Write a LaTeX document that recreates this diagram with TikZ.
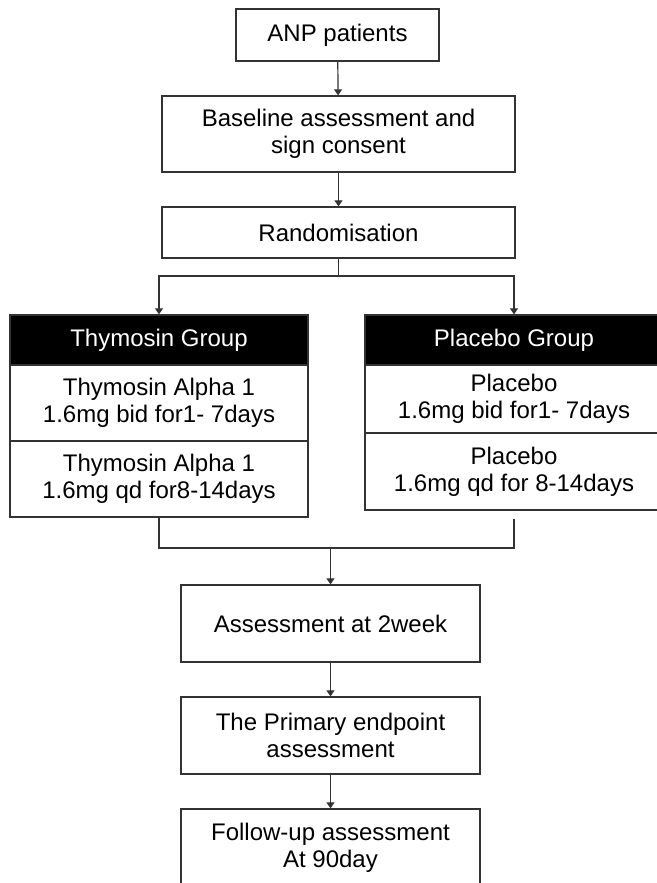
\documentclass[tikz,border=0pt]{standalone}
\usepackage{fontspec}
\setmainfont{Liberation Sans}
\usetikzlibrary{arrows.meta}

\begin{document}
\begin{tikzpicture}[x=1pt,y=-1pt,
  box/.style={draw=black!80,line width=1.3pt,fill=white,align=center,inner sep=0pt,
    font=\fontsize{24}{27}\selectfont},
  head/.style={box,fill=black,text=white},
  arr/.style={-{Triangle[length=6pt,width=8pt]},line width=1.2pt,draw=black!80},
  con/.style={line width=1.2pt,draw=black!80}]
\useasboundingbox (0,0) rectangle (656,883);
\node[box,minimum width=203pt,minimum height=52pt] (anp) at (337.5,35) {ANP patients};
\node[box,minimum width=353pt,minimum height=76pt] (base) at (338.5,134) {Baseline assessment and\\sign consent};
\node[box,minimum width=353pt,minimum height=51pt] (rand) at (338.5,232.5) {Randomisation};
\node[head,minimum width=298pt,minimum height=50pt] (thyhead) at (159,340) {Thymosin Group};
\node[box,minimum width=298pt,minimum height=76pt] (thy1) at (159,403) {Thymosin Alpha 1\\1.6mg bid for1- 7days};
\node[box,minimum width=298pt,minimum height=76pt] (thy2) at (159,479) {Thymosin Alpha 1\\1.6mg qd for8-14days};
\node[head,minimum width=298pt,minimum height=50pt] (plahead) at (514,340) {Placebo Group};
\node[box,minimum width=298pt,minimum height=68pt] (pla1) at (514,399) {Placebo\\1.6mg bid for1- 7days};
\node[box,minimum width=298pt,minimum height=77pt] (pla2) at (514,471.5) {Placebo\\1.6mg qd for 8-14days};
\node[box,minimum width=299pt,minimum height=77pt] (assess) at (330.5,623.5) {Assessment at 2week};
\node[box,minimum width=299pt,minimum height=77pt] (prim) at (330.5,735.5) {The Primary endpoint\\assessment};
\node[box,minimum width=299pt,minimum height=77pt] (follow) at (330.5,847.5) {Follow-up assessment\\At 90day};
\coordinate (split) at (338.5,276);
\coordinate (join) at (330.5,548);
\draw[arr] (anp) -- (base);
\draw[arr] (base) -- (rand);
\draw[con] (rand.south) -- (split);
\draw[arr] (split) -| (thyhead.north);
\draw[arr] (split) -| (plahead.north);
\draw[con] (thy2.south) |- (join);
\draw[con] ([yshift=-8pt]pla2.south) |- (join);
\draw[arr] (join) -- (assess);
\draw[arr] (assess) -- (prim);
\draw[arr] (prim) -- (follow);
\end{tikzpicture}
\end{document}
